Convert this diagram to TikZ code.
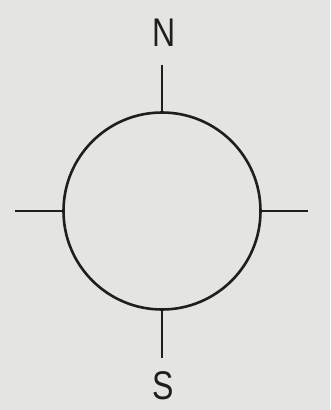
\documentclass[tikz,border=0pt]{standalone}
\usepackage{fontspec}
\setmainfont{Liberation Sans}
\definecolor{bg}{HTML}{E4E4E2}
\definecolor{ink}{HTML}{1E1E1E}
\begin{document}
\begin{tikzpicture}[x=1pt,y=-1pt,
  tick/.style={draw=ink,line width=1.8pt},
  lbl/.style={text=ink,font=\fontsize{40}{40}\selectfont,inner sep=0pt,xscale=0.8}]
\fill[bg] (0,0) rectangle (330,410);
\useasboundingbox (0,0) rectangle (330,410);
\node[draw=ink,line width=2.6pt,circle,minimum size=197pt,inner sep=0pt] (c) at (162,211) {};
\coordinate (nt) at (162,65);
\coordinate (st) at (162,358);
\coordinate (wt) at (15,211);
\coordinate (et) at (308,211);
\draw[tick] (c.north) -- (nt);
\draw[tick] (c.south) -- (st);
\draw[tick] (c.west) -- (wt);
\draw[tick] (c.east) -- (et);
\node[lbl] (n) at (164,33) {N};
\node[lbl] (s) at (163,386) {S};
\end{tikzpicture}
\end{document}
